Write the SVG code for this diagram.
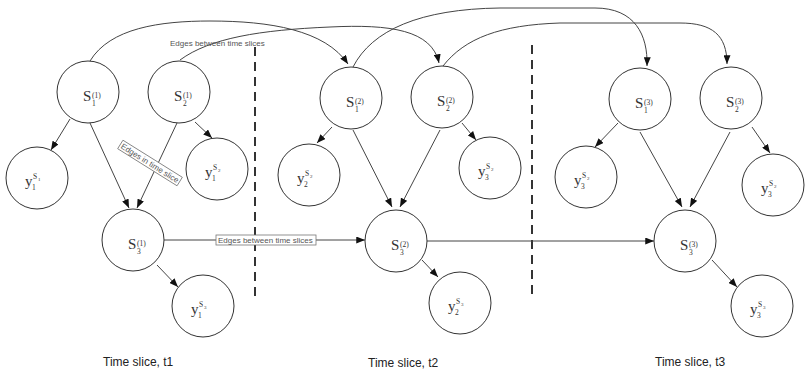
<svg xmlns="http://www.w3.org/2000/svg" width="805" height="372" viewBox="0 0 805 372">
<style>
circle{fill:#fff;stroke:#333;stroke-width:1}
.e{fill:none;stroke:#444;stroke-width:1;marker-end:url(#ah)}
.big{font-family:"Liberation Serif",serif;font-size:15px;fill:#333}
.sm{font-family:"Liberation Serif",serif;font-size:7.5px;fill:#333}
.xs{font-family:"Liberation Serif",serif;font-size:5px;fill:#333}
.ts{font-family:"Liberation Sans",Arial,sans-serif;font-size:12px;fill:#222}
.lb{font-family:"Liberation Sans",Arial,sans-serif;font-size:8px;fill:#555}
.dash{stroke:#333;stroke-width:2;stroke-dasharray:9,6;fill:none}
</style>
<defs>
<marker id="ah" viewBox="0 0 10 8" refX="10" refY="4" markerWidth="9" markerHeight="7" markerUnits="userSpaceOnUse" orient="auto">
<path d="M0,0 L10,4 L0,8 z" fill="#111"/>
</marker>
</defs>
<rect width="805" height="372" fill="#fff"/>
<g id="dividers">
<line class="dash" x1="255" y1="47" x2="255" y2="297"/>
<line class="dash" x1="532" y1="45" x2="532" y2="297"/>
</g>
<g id="connectors">
<path class="e" d="M90,61 C110,28 160,21 210,21 C270,21 325,30 348,64"/>
<path class="e" d="M180,60 C210,38 260,30 330,27 C390,24 432,30 439,63"/>
<path class="e" d="M353,67 C372,30 420,9 500,8 L595,8 C635,8 648,35 647,66"/>
<path class="e" d="M443,66 C465,38 500,25 560,23 L680,23 C712,23 727,35 727,64"/>
<path class="e" d="M70,119 L51,150"/>
<path class="e" d="M90,123 L129,208"/>
<path class="e" d="M177,123 L137,208"/>
<path class="e" d="M195,122 L212,138"/>
<path class="e" d="M157,265 L178,287"/>
<path class="e" d="M164,240 L365,240"/>
<path class="e" d="M332,127 L317,143"/>
<path class="e" d="M353,130 L392,207"/>
<path class="e" d="M440,130 L400,207"/>
<path class="e" d="M462,123 L476,140"/>
<path class="e" d="M422,260 L438,277"/>
<path class="e" d="M427,241 L654,241"/>
<path class="e" d="M618,123 L595,147"/>
<path class="e" d="M640,132 L682,207"/>
<path class="e" d="M730,132 L690,207"/>
<path class="e" d="M752,127 L770,153"/>
<path class="e" d="M712,260 L737,287"/>
</g>
<g id="edge-labels">
<text class="lb" x="170" y="46">Edges between time slices</text>
<g transform="translate(216,240)">
<rect x="0" y="-5" width="100" height="10" fill="#fff" stroke="#777" stroke-width="0.8"/>
<text class="lb" x="2" y="3">Edges between time slices</text>
</g>
<g transform="translate(150,163) rotate(32)">
<rect x="-35" y="-5" width="70" height="10" fill="#fff" stroke="#777" stroke-width="0.8"/>
<text class="lb" x="0" y="3" text-anchor="middle">Edges in time slice</text>
</g>
</g>
<g id="s1-1"><circle cx="88" cy="92" r="31"/><text class="big" x="83" y="101">S</text><text class="sm" x="92" y="106">1</text><text class="sm" x="92" y="98">(1)</text></g>
<g id="s2-1"><circle cx="179" cy="92" r="31"/><text class="big" x="174" y="101">S</text><text class="sm" x="183" y="106">2</text><text class="sm" x="183" y="98">(1)</text></g>
<g id="s3-1"><circle cx="133" cy="240" r="31"/><text class="big" x="128" y="249">S</text><text class="sm" x="137" y="254">3</text><text class="sm" x="137" y="246">(1)</text></g>
<g id="y1-s1"><circle cx="37" cy="178" r="31"/><text class="big" x="25" y="186">y</text><text class="sm" x="32" y="190">1</text><text class="sm" x="33" y="179">S</text><text class="xs" x="38" y="181">1</text></g>
<g id="y1-s2"><circle cx="217" cy="169" r="31"/><text class="big" x="205" y="177">y</text><text class="sm" x="212" y="181">1</text><text class="sm" x="213" y="170">S</text><text class="xs" x="218" y="172">2</text></g>
<g id="y1-s3"><circle cx="203" cy="306" r="31"/><text class="big" x="191" y="314">y</text><text class="sm" x="198" y="318">1</text><text class="sm" x="199" y="307">S</text><text class="xs" x="204" y="309">3</text></g>
<g id="s1-2"><circle cx="351" cy="98" r="31"/><text class="big" x="346" y="107">S</text><text class="sm" x="355" y="112">1</text><text class="sm" x="355" y="104">(2)</text></g>
<g id="s2-2"><circle cx="442" cy="97" r="31"/><text class="big" x="437" y="106">S</text><text class="sm" x="446" y="111">2</text><text class="sm" x="446" y="103">(2)</text></g>
<g id="s3-2"><circle cx="396" cy="241" r="31"/><text class="big" x="391" y="250">S</text><text class="sm" x="400" y="255">3</text><text class="sm" x="400" y="247">(2)</text></g>
<g id="y2-s2"><circle cx="309" cy="175" r="31"/><text class="big" x="297" y="183">y</text><text class="sm" x="304" y="187">2</text><text class="sm" x="305" y="176">S</text><text class="xs" x="310" y="178">2</text></g>
<g id="y3-s2a"><circle cx="490" cy="168" r="31"/><text class="big" x="478" y="176">y</text><text class="sm" x="485" y="180">3</text><text class="sm" x="486" y="169">S</text><text class="xs" x="491" y="171">2</text></g>
<g id="y2-s3"><circle cx="460" cy="303" r="31"/><text class="big" x="448" y="311">y</text><text class="sm" x="455" y="315">2</text><text class="sm" x="456" y="304">S</text><text class="xs" x="461" y="306">3</text></g>
<g id="s1-3"><circle cx="640" cy="99" r="31"/><text class="big" x="635" y="108">S</text><text class="sm" x="644" y="113">1</text><text class="sm" x="644" y="105">(3)</text></g>
<g id="s2-3"><circle cx="731" cy="98" r="31"/><text class="big" x="726" y="107">S</text><text class="sm" x="735" y="112">2</text><text class="sm" x="735" y="104">(3)</text></g>
<g id="s3-3"><circle cx="685" cy="241" r="31"/><text class="big" x="680" y="250">S</text><text class="sm" x="689" y="255">3</text><text class="sm" x="689" y="247">(3)</text></g>
<g id="y3-s2b"><circle cx="586" cy="177" r="31"/><text class="big" x="574" y="185">y</text><text class="sm" x="581" y="189">3</text><text class="sm" x="582" y="178">S</text><text class="xs" x="587" y="180">2</text></g>
<g id="y3-s2c"><circle cx="773" cy="185" r="31"/><text class="big" x="761" y="193">y</text><text class="sm" x="768" y="197">3</text><text class="sm" x="769" y="186">S</text><text class="xs" x="774" y="188">2</text></g>
<g id="y3-s3"><circle cx="762" cy="306" r="31"/><text class="big" x="750" y="314">y</text><text class="sm" x="757" y="318">3</text><text class="sm" x="758" y="307">S</text><text class="xs" x="763" y="309">3</text></g>
<g id="slice-labels">
<text class="ts" x="103" y="366">Time slice, t1</text>
<text class="ts" x="368" y="367">Time slice, t2</text>
<text class="ts" x="655" y="366">Time slice, t3</text>
</g>
</svg>
